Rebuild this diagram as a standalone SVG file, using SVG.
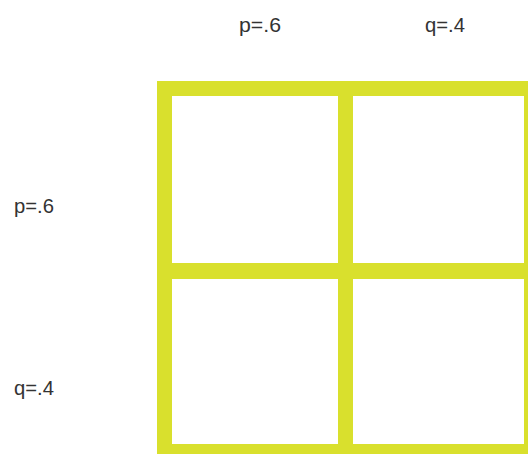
<svg xmlns="http://www.w3.org/2000/svg" width="528" height="454" viewBox="0 0 528 454">
<style>
.lbl{font-family:"Liberation Sans",Arial,sans-serif;font-size:20px;fill:#333}
.cell{fill:#ffffff}
.frame{fill:#d9e02d}
</style>
<rect width="528" height="454" fill="#ffffff"/>
<g id="grid">
<rect class="frame" x="157" y="81" width="382" height="380"/>
<g id="cell-pp"><rect class="cell" x="172" y="96" width="166" height="167"/></g>
<g id="cell-pq"><rect class="cell" x="353" y="96" width="171" height="167"/></g>
<g id="cell-qp"><rect class="cell" x="172" y="279" width="166" height="165"/></g>
<g id="cell-qq"><rect class="cell" x="353" y="279" width="171" height="165"/></g>
</g>
<g id="labels">
<text class="lbl" x="239" y="32" textLength="42" lengthAdjust="spacingAndGlyphs">p=.6</text>
<text class="lbl" x="425" y="32" textLength="40" lengthAdjust="spacingAndGlyphs">q=.4</text>
<text class="lbl" x="14" y="213" textLength="40" lengthAdjust="spacingAndGlyphs">p=.6</text>
<text class="lbl" x="14" y="395" textLength="40" lengthAdjust="spacingAndGlyphs">q=.4</text>
</g>
<g id="connectors"></g>
</svg>
